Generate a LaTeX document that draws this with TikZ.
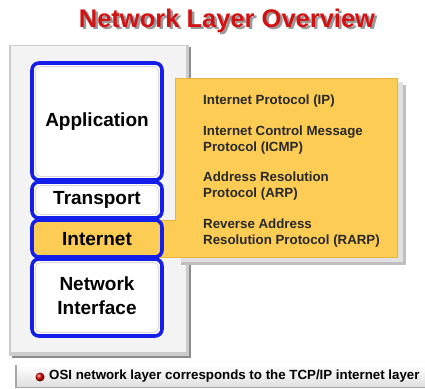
\documentclass[tikz,border=0pt]{standalone}
\usepackage{fontspec}
\setmainfont{Liberation Sans}
\usetikzlibrary{shadows,shadows.blur}
\definecolor{titlered}{RGB}{210,18,18}
\definecolor{layerblue}{RGB}{20,30,235}
\definecolor{panelyellow}{RGB}{252,204,84}
\definecolor{paneledge}{RGB}{230,180,60}
\definecolor{framegray}{RGB}{243,243,243}
\definecolor{txtgray}{RGB}{40,40,40}
\newcommand{\shadowtext}[1]{\rlap{\hspace{2.5pt}\raisebox{-2.5pt}{\color{black!40}#1}}{\color{titlered}#1}}
\tikzset{
  layerbox/.style={draw=layerblue, line width=3.6pt, rounded corners=7pt, fill=white},
  layerlabel/.style={font=\bfseries\fontsize{19}{22}\selectfont, text=black, align=center},
  protolabel/.style={font=\bfseries\fontsize{13.3}{15.5}\selectfont, text=txtgray, anchor=base west, align=left, inner sep=0pt},
}
\begin{document}
\begin{tikzpicture}[x=1pt,y=-1pt]
\useasboundingbox (0,0) rectangle (425,388);
\fill[white] (0,0) rectangle (425,388);
% title
\node[font=\bfseries\fontsize{25.5}{28}\selectfont, anchor=base, inner sep=0pt] (title) at (227,27) {\shadowtext{Network Layer Overview}};
% outer frame
\fill[black!45] (12,47) rectangle (191,358);
\fill[black!20] (9,45) rectangle (189,356);
\fill[framegray] (11,46) rectangle (186,352);
% yellow panel shadow
\fill[black!25] (181,85) -- (406,85) -- (406,265) -- (181,265) -- cycle;
\fill[black!12] (181,82) -- (403,82) -- (403,262) -- (181,262) -- cycle;
% yellow panel
\filldraw[fill=panelyellow, draw=paneledge, line width=0.8pt] (175,78) -- (397,78) -- (397,257) -- (160,257) -- (160,220) -- (175,220) -- cycle;
\node[protolabel] (ip) at (203,104) {Internet Protocol (IP)};
\node[protolabel] (icmp) at (203,151) {Internet Control Message\\Protocol (ICMP)};
\node[protolabel] (arp) at (203,197) {Address Resolution\\Protocol (ARP)};
\node[protolabel] (rarp) at (203,244) {Reverse Address\\Resolution Protocol (RARP)};
% layer boxes
\draw[layerbox] (32,63) rectangle (162,180);
\draw[layerbox] (32,182) rectangle (162,218);
\draw[layerbox, fill=panelyellow] (32,220) rectangle (162,257);
\draw[layerbox] (32,259) rectangle (162,336);
\draw[black!15, line width=1pt, rounded corners=5pt] (35.5,66.5) rectangle (158.5,176.5);
\draw[black!15, line width=1pt, rounded corners=5pt] (35.5,185.5) rectangle (158.5,214.5);
\draw[black!15, line width=1pt, rounded corners=5pt] (35.5,262.5) rectangle (158.5,332.5);
\node[layerlabel] (app) at (97,122) {Application};
\node[layerlabel] (tr) at (97,200) {Transport};
\node[layerlabel] (inet) at (97,239) {Internet};
\node[layerlabel, font=\bfseries\fontsize{19}{24}\selectfont] (ni) at (97,296) {Network\\Interface};
% bottom bar
\fill[black!35] (15,365) rectangle (425,388);
\shade[top color=white, bottom color=black!12] (17,365) rectangle (425,386);
\shade[ball color=red!85!black] (40,377) circle (4.5pt);
\node[font=\bfseries\fontsize{13.3}{15}\selectfont, anchor=west, inner sep=0pt, text=black] (note) at (49,376.5) {OSI network layer corresponds to the TCP/IP internet layer};
\end{tikzpicture}
\end{document}
